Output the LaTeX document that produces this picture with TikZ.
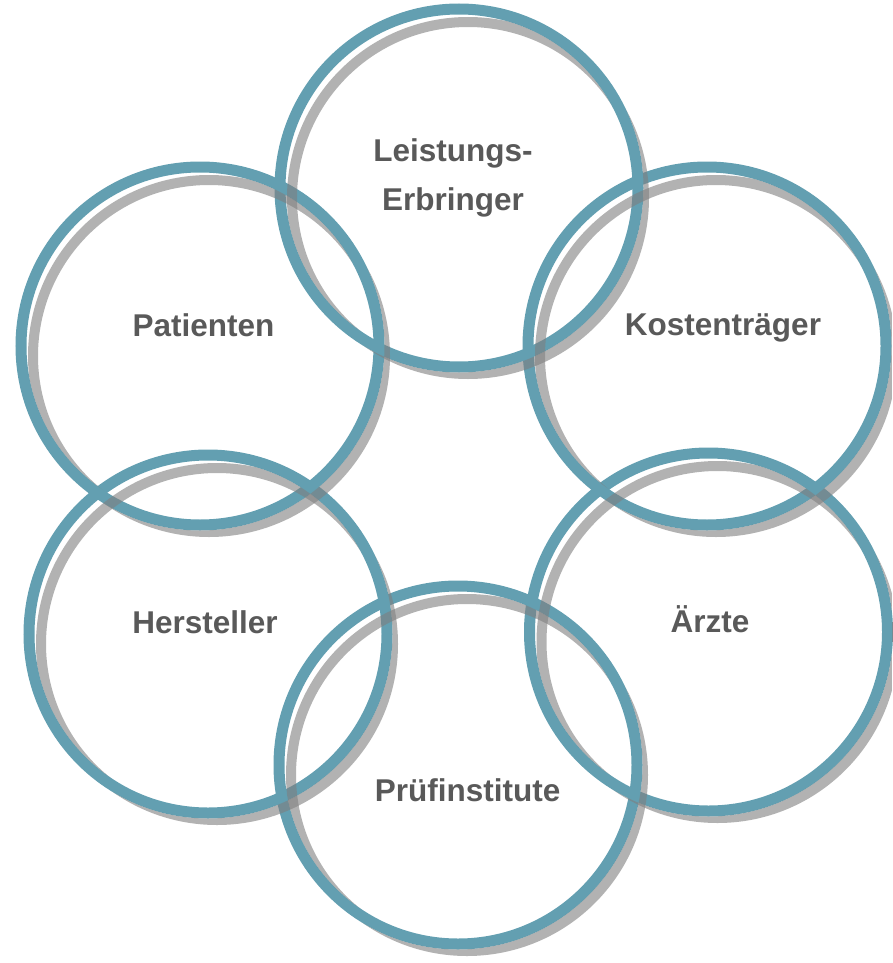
\documentclass[tikz,border=0pt]{standalone}
\usepackage{fontspec}
\setmainfont{Liberation Sans}
\usetikzlibrary{calc}
\definecolor{ringblue}{HTML}{639FB1}
\definecolor{shadowgrey}{HTML}{7F7F7F}
\definecolor{txtgrey}{HTML}{595959}
\begin{document}
\begin{tikzpicture}[x=1pt,y=-1pt,
  ring/.style={draw=ringblue,line width=11pt},
  ringshadow/.style={draw=shadowgrey,draw opacity=0.6,line width=10pt},
  lbl/.style={anchor=base,inner sep=0pt,text=txtgrey,font=\bfseries\fontsize{31.5}{38}\selectfont}]
\useasboundingbox (0,0) rectangle (892,963);
\coordinate (cL) at (459,188);
\coordinate (cP) at (200,346);
\coordinate (cK) at (707,346);
\coordinate (cH) at (208,634);
\coordinate (cA) at (708.5,632);
\coordinate (cU) at (458,765);
\foreach \c in {cL,cP,cK,cH,cA,cU} {
  \draw[ring] (\c) circle (179pt);
}
\foreach \c in {cL,cP,cK,cH,cA,cU} {
  \begin{scope}[even odd rule]
    \clip (0,0) rectangle (892,963) (\c) circle (184.5pt) (\c) circle (173.5pt);
    \draw[ringshadow] ($(\c)+(9,10)$) circle (176pt);
  \end{scope}
}
\node[lbl] (lei1) at (453,161.7) {Leistungs-};
\node[lbl] (lei2) at (453,210.7) {Erbringer};
\node[lbl] (pat) at (203.5,336) {Patienten};
\node[lbl] (kos) at (723,335.7) {Kostenträger};
\node[lbl] (arz) at (710,632.7) {Ärzte};
\node[lbl] (her) at (205,633) {Hersteller};
\node[lbl] (pru) at (467.7,801) {Prüfinstitute};
\end{tikzpicture}
\end{document}
